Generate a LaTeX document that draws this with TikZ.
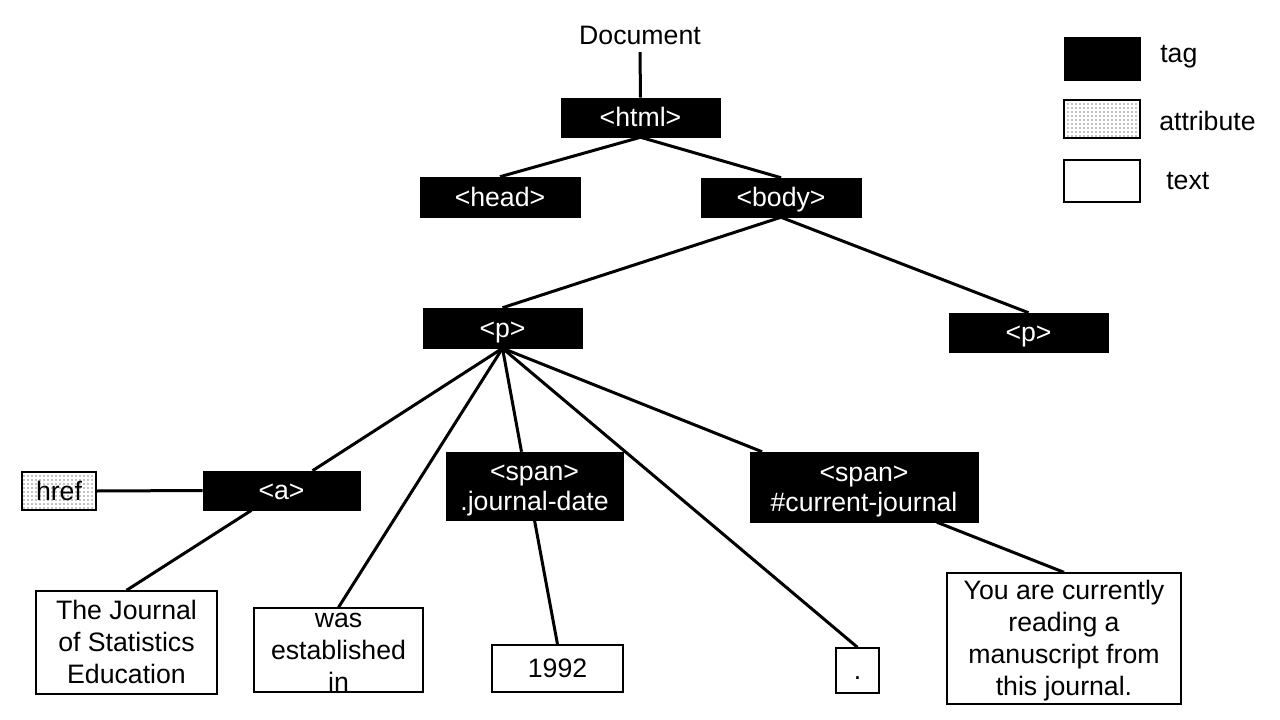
\documentclass[tikz,border=0pt]{standalone}
\usepackage{fontspec}
\setmainfont{Liberation Sans}
\usepackage{tikz}
\usetikzlibrary{calc,patterns}

% line strut (ascent + descent of one 20pt line)
\newcommand{\lstrut}{\rule[-4.24pt]{0pt}{22.34pt}}

\tikzset{
  tagbox/.style={draw=black, fill=black, text=white, inner sep=0pt, align=center},
  attrbox/.style={draw=black, line width=1pt, pattern=dots, inner sep=0pt},
  txtbox/.style={draw=black, line width=1pt, fill=white, inner sep=0pt, align=center},
  legend/.style={anchor=west, inner sep=0pt},
  link/.style={line width=2.25pt},
}

\begin{document}
\begin{tikzpicture}[x=0.75pt,y=0.75pt,yscale=-1,xscale=1,font=\fontsize{20}{24}\selectfont]
\useasboundingbox (0,0) rectangle (1280,720);

% Text Node
\node [inner xsep=0pt, inner ysep=1.7pt] (doc) at (640,34.8) {\lstrut Document};
% Tags
\node [tagbox, minimum width=119.25pt, minimum height=29.25pt] (html) at (640.5,117.5) {\lstrut<html>};
\node [tagbox, minimum width=120pt, minimum height=30pt] (head) at (500,197) {\lstrut<head>};
\node [tagbox, minimum width=120pt, minimum height=29.25pt] (body) at (781,197.5) {\lstrut<body>};
\node [tagbox, minimum width=119.25pt, minimum height=30pt] (pa) at (502.5,328) {\lstrut<p>};
\node [tagbox, minimum width=119.25pt, minimum height=29.25pt] (pb) at (1028.5,332.5) {\lstrut<p>};
\node [tagbox, minimum width=117.75pt, minimum height=29.25pt] (a) at (281.5,490.5) {\lstrut<a>};
\node [tagbox, minimum width=132.75pt, minimum height=51pt] (spandate) at (534.5,486) {\lstrut<span>\\[-1.5pt].journal-date\lstrut};
\node [tagbox, minimum width=171pt, minimum height=52.5pt] (spancur) at (864,487) {\lstrut<span>\\[-1.5pt]\#current-journal\lstrut};
% Attribute
\node [attrbox, minimum width=55.5pt, minimum height=28.5pt] (href) at (59,491) {\lstrut href};
% Texts
\node [txtbox, minimum width=135.75pt, minimum height=77.25pt] (jse) at (126.5,642.5) {\lstrut The Journal\\of Statistics\\Education\lstrut};
\node [txtbox, minimum width=126.75pt, minimum height=63pt] (estab) at (338.5,650) {\lstrut\smash{\raisebox{-0.6pt}{\begin{tabular}{@{}c@{}}was\\established\\in\end{tabular}}}};
\node [txtbox, minimum width=98.25pt, minimum height=35.25pt] (year) at (557.5,668.5) {\lstrut 1992};
\node [txtbox, minimum width=32.25pt, minimum height=33.75pt] (stop) at (857.5,670.5) {\lstrut.};
\node [txtbox, minimum width=175.5pt, minimum height=98.25pt] (reading) at (1064,638.5) {\lstrut You are currently\\reading a\\manuscript from\\this journal.\lstrut};

% Legend
\node [tagbox, minimum width=57pt, minimum height=32.25pt] (legtag) at (1102,58.5) {};
\node [attrbox, minimum width=57pt, minimum height=28.5pt] (legattr) at (1102,119) {};
\node [txtbox, minimum width=57pt, minimum height=31.5pt] (legtxt) at (1102,181) {};
\node [legend] (ltag) at (1160,53.3) {\lstrut tag};
\node [legend] (lattr) at (1159,120.8) {\lstrut attribute};
\node [legend] (ltxt) at (1166,180) {\lstrut text};

% Connectors
\draw [link] (doc.south) -- (html.north);
\draw [link] (html.south) -- (head.north);
\draw [link] (html.south) -- (body.north);
\draw [link] (body.south) -- (pa.north);
\draw [link] (body.south) -- (pb.north);
\draw [link] (pa.south) -- ($(a.north)+(31,0)$);
\draw [link] (pa.south) -- (estab.north);
\draw [link] (pa.south) -- ($(spandate.north)+(-13,0)$);
\draw [link] (pa.south) -- (stop.north);
\draw [link] (pa.south) -- ($(spancur.north)+(-102,0)$);
\draw [link] (href.east) -- (a.west);
\draw [link] ($(a.south)+(-30,0)$) -- (jse.north);
\draw [link] (spandate.south) -- (year.north);
\draw [link] ($(spancur.south)+(73,0)$) -- (reading.north);

\end{tikzpicture}
\end{document}
